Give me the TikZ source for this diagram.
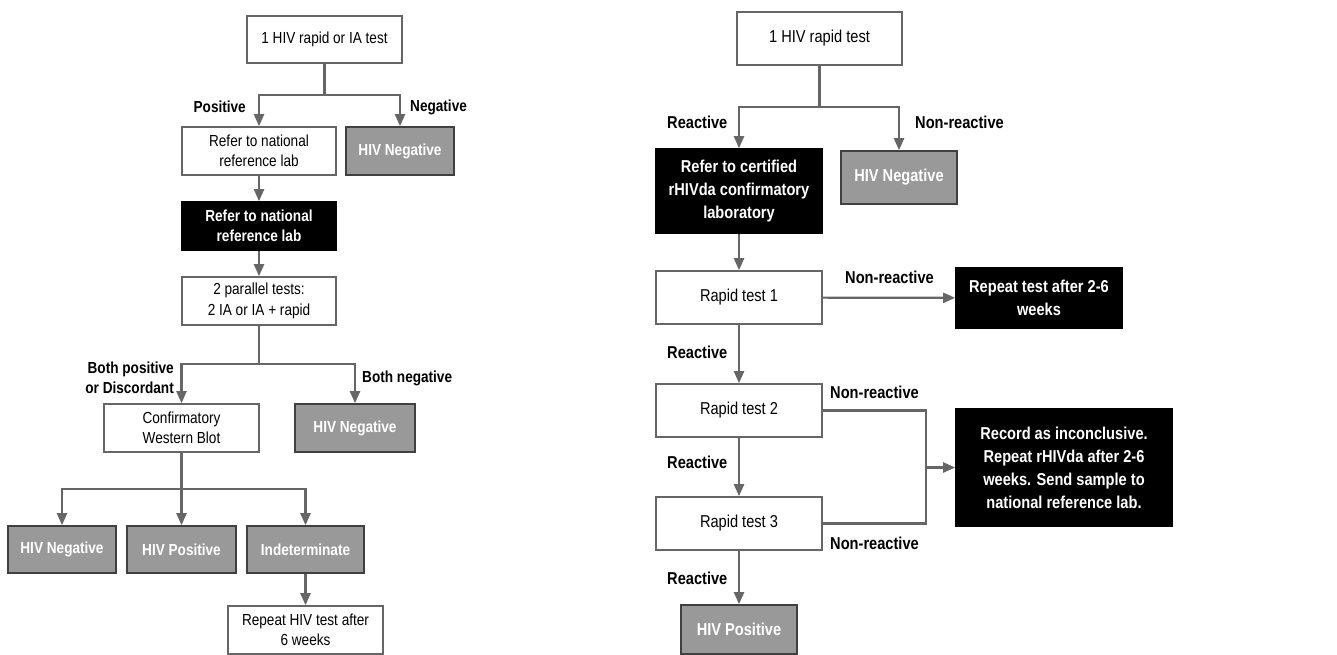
\documentclass[tikz,border=0pt]{standalone}
\usepackage{fontspec}
\setmainfont{Liberation Sans}[FakeStretch=0.85]
\usetikzlibrary{arrows.meta,positioning}

\definecolor{linegray}{HTML}{666666}
\definecolor{boxgray}{HTML}{999999}

\begin{document}
\begin{tikzpicture}[x=1pt,y=-1pt]
  \tikzstyle{every node}=[align=center]
  \tikzstyle{plain}=[rectangle,draw=linegray,fill=white,line width=1.6pt,inner sep=2pt]
  \tikzstyle{result}=[plain,draw=black!75,fill=boxgray,text=white,font=\bfseries]
  \tikzstyle{refer}=[plain,draw=black,fill=black,text=white,font=\bfseries]
  \tikzstyle{branch}=[font=\bfseries,inner sep=0pt]
  \tikzstyle{line}=[draw=linegray,line width=2.2pt]
  \tikzstyle{arrow}=[line,-{Triangle[length=12pt,width=10pt]}]

  \useasboundingbox (0,0) rectangle (1337,655);

  % left algorithm
  \begin{scope}[node distance=75pt]
    \fontsize{16}{20.5}\selectfont
    \node[plain,minimum width=155pt,minimum height=47pt] (T) at (324.5,39.5) {1 HIV rapid or IA test};
    \node[plain,minimum width=154pt,minimum height=48pt] (P) at (259,151) {Refer to national\\reference lab};
    \node[result,minimum width=108pt,minimum height=48pt] (N) at (400,151) {HIV Negative};
    \node[refer,minimum width=154pt,minimum height=48pt] (B) [below of=P] {Refer to national\\reference lab};
    \node[plain,minimum width=154pt,minimum height=48pt] (L) [below of=B] {2 parallel tests:\\2 IA or IA + rapid};
    \node[plain,minimum width=155pt,minimum height=48pt] (C) at (181.5,428) {Confirmatory\\Western Blot};
    \node[result,minimum width=120pt,minimum height=48pt] (M) at (355,428) {HIV Negative};
    \node[result,minimum width=108pt,minimum height=47pt] (G1) at (62,549.5) {HIV Negative};
    \node[result,minimum width=109pt,minimum height=47pt] (G2) at (181.5,549.5) {HIV Positive};
    \node[result,minimum width=117pt,minimum height=47pt] (G3) at (305.5,549.5) {Indeterminate};
    \node[plain,minimum width=155pt,minimum height=48pt] (W) [below of=G3,node distance=80.5pt] {Repeat HIV test after\\6 weeks};

    \coordinate (j1) at (324.5,95);
    \coordinate (j2) at (259,364);
    \coordinate (j3) at (181.5,489);
    \draw[line] (T) -- (j1);
    \draw[arrow] (j1) -| (P);
    \draw[arrow] (j1) -| (N);
    \draw[arrow] (P) -- (B);
    \draw[arrow] (B) -- (L);
    \draw[line] (L) -- (j2);
    \draw[arrow] (j2) -| (C);
    \draw[arrow] (j2) -| (M);
    \draw[line] (C) -- (j3);
    \foreach \g in {G1,G2,G3}
      \draw[arrow] (j3) -| (\g);
    \draw[arrow] (G3) -- (W);

    \node[branch,anchor=east] at (246,107) {Positive};
    \node[branch,anchor=west] at (410,107) {Negative};
    \node[branch,anchor=east,align=right] at (174,378) {Both positive\\or Discordant};
    \node[branch,anchor=west] at (362,378) {Both negative};
  \end{scope}

  % right algorithm
  \begin{scope}[node distance=113pt]
    \fontsize{17.2}{23}\selectfont
    \node[plain,minimum width=165pt,minimum height=53pt] (T2) at (819.5,38.5) {1 HIV rapid test};
    \node[refer,minimum width=166pt,minimum height=84pt] (R) at (739,191) {Refer to certified\\rHIVda confirmatory\\laboratory};
    \node[result,minimum width=116pt,minimum height=53pt] (N2) at (899,177.5) {HIV Negative};
    \node[plain,minimum width=166pt,minimum height=53pt] (R1) [below of=R,node distance=106.5pt] {Rapid test 1};
    \node[plain,minimum width=166pt,minimum height=53pt] (R2) [below of=R1] {Rapid test 2};
    \node[plain,minimum width=166pt,minimum height=53pt] (R3) [below of=R2] {Rapid test 3};
    \node[result,minimum width=116pt,minimum height=49pt] (HP) at (739,629.5) {HIV Positive};
    \node[refer,minimum width=166pt,minimum height=60pt] (RP) at (1039,298) {Repeat test after 2-6\\weeks};
    \node[refer,minimum width=216pt,minimum height=117pt] (REC) at (1064,467.5) {Record as inconclusive.\\Repeat rHIVda after 2-6\\weeks. Send sample to\\national reference lab.};

    \coordinate (j4) at (819.5,107);
    \coordinate (k) at (926,467.5);
    \draw[line] (T2) -- (j4);
    \draw[arrow] (j4) -| (R);
    \draw[arrow] (j4) -| (N2);
    \draw[arrow] (R) -- (R1);
    \draw[arrow] (R1) -- (R2);
    \draw[arrow] (R2) -- (R3);
    \draw[arrow] (R3) -- (HP);
    \draw[arrow] (R1) -- (RP);
    \draw[line] (R2) -| (k);
    \draw[line] (R3) -| (k);
    \draw[arrow] (k) -- (REC);

    \node[branch,anchor=west] at (667,122) {Reactive};
    \node[branch,anchor=west] at (915,122) {Non-reactive};
    \node[branch,anchor=west] at (845,277) {Non-reactive};
    \node[branch,anchor=west] at (667,352) {Reactive};
    \node[branch,anchor=west] at (830,392) {Non-reactive};
    \node[branch,anchor=west] at (667,462) {Reactive};
    \node[branch,anchor=west] at (830,543) {Non-reactive};
    \node[branch,anchor=west] at (667,578) {Reactive};
  \end{scope}
\end{tikzpicture}
\end{document}
